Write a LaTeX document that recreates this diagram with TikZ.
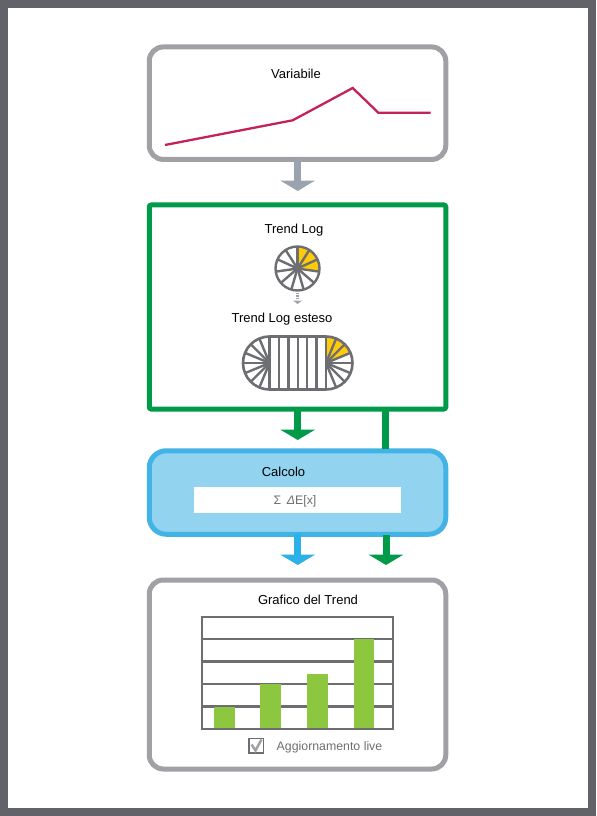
\documentclass[tikz,border=0pt]{standalone}
\usepackage{fontspec}
\setmainfont{Liberation Sans}
\usetikzlibrary{arrows.meta}
\definecolor{framegrey}{HTML}{626369}
\definecolor{boxgrey}{HTML}{A0A1A5}
\definecolor{icongrey}{HTML}{6D6E71}
\definecolor{trendgreen}{HTML}{009A49}
\definecolor{calcblue}{HTML}{41B3E4}
\definecolor{calcfill}{HTML}{92D3F0}
\definecolor{arrowblue}{HTML}{2BB0E8}
\definecolor{arrowgrey}{HTML}{9AA4AE}
\definecolor{wedge}{HTML}{FFCB08}
\definecolor{bargreen}{HTML}{8DC63F}
\definecolor{crimson}{HTML}{C4235A}
\def\px{.75pt}
\tikzset{
  panel/.style={draw=boxgrey,line width=5*\px,rounded corners=14*\px,fill=white,minimum width=296.5*\px,outer sep=0pt,inner sep=0pt},
  flowarrow/.style={line width=7*\px,draw=#1,-{Triangle[width=34*\px,length=10.3*\px,fill=#1]}},
  label/.style={font=\fontsize{9.75}{11}\selectfont,text=black,inner sep=0pt},
  greylabel/.style={font=\fontsize{9.25}{11}\selectfont,text=icongrey,inner sep=0pt},
  icon/.style={draw=icongrey,line width=2.4*\px},
  gridline/.style={draw=icongrey,line width=2.2*\px},
  bar/.style={fill=bargreen,draw=none}
}
\begin{document}
\begin{tikzpicture}[x=.75pt,y=-.75pt]
\useasboundingbox (0,0) rectangle (596,816);
\fill[framegrey] (0,0) rectangle (596,816);
\fill[white] (8,8) rectangle (588,808);

% panels
\node[panel,minimum height=112.5*\px] (var) at (297.5,103.2) {};
\node[panel,draw=trendgreen,rounded corners=2*\px,minimum height=204*\px] (trend) at (297.5,307) {};
\node[panel,draw=calcblue,fill=calcfill,rounded corners=17*\px,minimum height=83.5*\px] (calc) at (297.5,492.5) {};
\node[panel,minimum height=189*\px] (graph) at (297.5,674.5) {};

% connectors
\coordinate (tipvar) at (297.7,191);
\coordinate (tiptrend) at (297.7,440);
\coordinate (tipcalc) at (297.7,565);
\coordinate (tipdirect) at (386,565);
\coordinate (passtop) at (385,409);
\coordinate (passbot) at (385,449);
\coordinate (dirstart) at (386,535);
\draw[flowarrow=arrowgrey] (var.south -| tipvar) -- (tipvar);
\draw[flowarrow=trendgreen] (trend.south -| tiptrend) -- (tiptrend);
\draw[flowarrow=arrowblue] (calc.south -| tipcalc) -- (tipcalc);
\draw[line width=7*\px,draw=trendgreen] (passtop) -- (passbot);
\draw[flowarrow=trendgreen] (dirstart) -- (tipdirect);

% variable line
\draw[crimson,line width=2.3*\px,line join=miter] (165,145) -- (292.7,120.3) -- (352.7,88) -- (378.3,112.7) -- (430.7,112.7);
\node[label] (tvar) at (296,74) {Variabile};

% trend log wheel
\node[label] (tlog) at (294,230) {Trend Log};
\fill[wedge] (297.5,268.5) -- (297.5,246.5) arc[start angle=90,end angle=-8.2,radius=22*\px] -- cycle;
\foreach \k in {0,...,10}{
  \draw[icon] (297.5,268.5) -- ++({90-\k*360/11}:{22} and {-22});
}
\node[circle,draw=icongrey,line width=2.4*\px,minimum size=44*\px,inner sep=0pt,outer sep=0pt] (wheel) at (297.5,268.5) {};
\coordinate (tipwheel) at (297.5,304);
\draw[draw=boxgrey,line width=2.2*\px,dash pattern=on 1.3*\px off 1.1*\px] (wheel.south) -- (297.5,300);
\fill[boxgrey] (293,300.5) -- (302,300.5) -- (tipwheel) -- cycle;

% extended wheel
\node[label] (tlogx) at (282,319) {Trend Log esteso};
\fill[wedge] (326,363) -- (326,336.5) arc[start angle=90,end angle=22.5,radius=26.5*\px] -- cycle;
\foreach \xv in {269.5,279,288.4,297.8,307.2,316.6,326}{
  \draw[icon] (\xv,336.5) -- (\xv,389.5);
}
\foreach \a in {22.5,45,...,157.5}{
  \draw[icon] (326,363) -- ++({90-\a}:{26.5} and {-26.5});
  \draw[icon] (269.5,363) -- ++({90+\a}:{26.5} and {-26.5});
}
\draw[draw=icongrey,line width=2.6*\px] (269.5,336.5) -- (326,336.5) arc[start angle=90,end angle=-90,radius=26.5*\px] -- (269.5,389.5) arc[start angle=270,end angle=90,radius=26.5*\px] -- cycle;

% calculation
\node[label] (tcalc) at (283.5,472) {Calcolo};
\node[fill=white,minimum width=207.5*\px,minimum height=26*\px,inner sep=0pt,outer sep=0pt] (formula) at (297.7,500.3) {};
\node[greylabel] (tform) at (295,501) {Σ\hspace{0.45em}\textit{Δ}E[x]};

% chart
\node[label] (tgraph) at (308,600) {Grafico del Trend};
\foreach \yv in {639,661.5,684,706.5}{
  \draw[gridline] (202,\yv) -- (393,\yv);
}
\fill[bar] (214,707) rectangle (234.5,728.5);
\fill[bar] (260,684) rectangle (281,728.5);
\fill[bar] (307,674) rectangle (328,728.5);
\fill[bar] (353.5,639) rectangle (374.3,728.5);
\draw[gridline] (202,616.7) rectangle (393,728.7);

% checkbox
\draw[icongrey,line width=1.3*\px,fill=white] (249,738.5) rectangle (263.5,753);
\draw[draw=boxgrey,line width=2.4*\px] (251.5,744.5) -- (255.5,750.5) -- (261.5,739.5);
\node[greylabel] (tlive) at (329.5,747) {Aggiornamento live};
\end{tikzpicture}
\end{document}
